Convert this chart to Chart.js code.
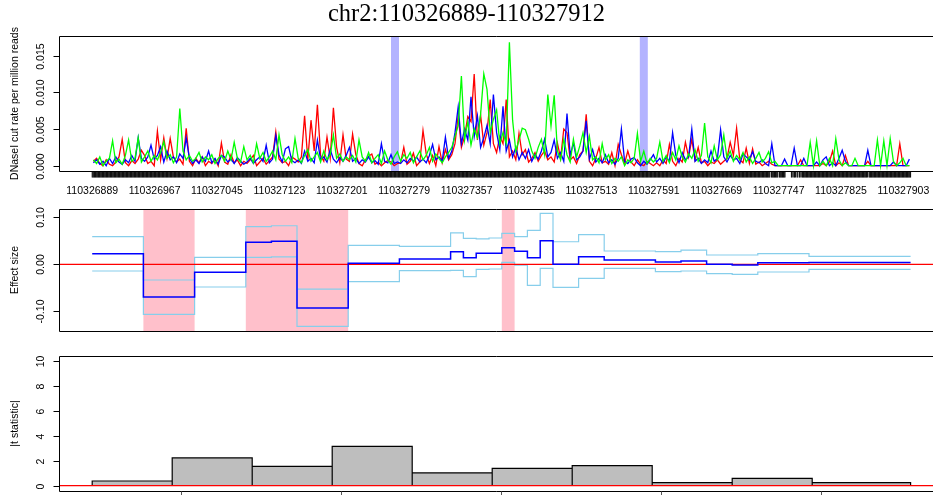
<!DOCTYPE html>
<html>
<head>
<meta charset="utf-8">
<title>chr2:110326889-110327912</title>
<script src="https://cdn.jsdelivr.net/npm/chart.js@4.4.0/dist/chart.umd.min.js"></script>
<style>
  html, body { margin: 0; padding: 0; background: #fff; overflow: hidden; }
  #wrap { position: relative; width: 933px; height: 495px; }
  #wrap canvas { position: absolute; left: 0; top: 0; }
</style>
</head>
<body>
<div id="wrap">
  <canvas id="cutChart" width="933" height="495"></canvas>
  <canvas id="effectChart" width="933" height="495"></canvas>
  <canvas id="tstatChart" width="933" height="495"></canvas>
</div>
<script>
const regionStart = 110326889;
const regionEnd = 110327912;
const regionTitle = 'chr2:110326889-110327912';

// DNaseI cut rate, one value per 4 bp, in units of 1e-4 reads per million
const cutBinSize = 4;
const cutRed = [
  6, 10, 3, 0, 8, 2, 0, 5, 12, 36, 4, 0, 7, 3, 9, 21,
  14, 3, 6, 0, 47, 8, 38, 10, 37, 12, 5, 9, 2, 51, 6, 0,
  10, 4, 12, 0, 6, 3, 9, 0, 31, 5, 2, 15, 4, 8, 0, 6,
  3, 8, 14, 0, 5, 10, 2, 7, 12, 46, 9, 4, 6, 0, 12, 9,
  5, 12, 68, 8, 62, 20, 83, 14, 6, 39, 10, 79, 25, 4, 42, 9,
  6, 43, 15, 3, 0, 8, 13, 16, 2, 5, 0, 4, 7, 5, 0, 3,
  4, 25, 2, 6, 17, 0, 5, 48, 16, 3, 14, 0, 26, 4, 22, 8,
  15, 30, 68, 25, 40, 67, 60, 125, 35, 69, 28, 45, 90, 30, 18, 40,
  30, 90, 12, 20, 8, 44, 15, 22, 5, 10, 18, 6, 14, 20, 8, 12,
  5, 31, 10, 50, 45, 8, 12, 3, 15, 20, 70, 6, 0, 10, 25, 4,
  6, 2, 18, 0, 29, 15, 3, 20, 5, 0, 8, 2, 0, 6, 3, 0,
  4, 0, 8, 3, 29, 6, 0, 10, 5, 32, 12, 36, 8, 25, 4, 6,
  0, 5, 3, 8, 2, 6, 10, 32, 14, 51, 8, 4, 24, 3, 23, 2,
  5, 0, 3, 6, 2, 0, 0, 0, 0, 0, 0, 0, 0, 8, 0, 0,
  0, 0, 0, 0, 3, 0, 5, 20, 0, 4, 0, 14, 0, 0, 0, 0,
  0, 0, 6, 0, 0, 0, 0, 0, 0, 0, 0, 0, 30, 0, 0, 0
];
const cutBlue = [
  4, 8, 2, 6, 0, 10, 3, 12, 5, 2, 8, 4, 14, 6, 38, 10,
  6, 12, 28, 9, 14, 26, 5, 20, 8, 12, 4, 16, 10, 38, 10, 3,
  8, 3, 12, 6, 20, 4, 10, 2, 14, 12, 5, 9, 3, 11, 6, 2,
  5, 10, 3, 8, 12, 6, 28, 4, 9, 41, 15, 5, 23, 26, 7, 4,
  8, 3, 20, 6, 10, 4, 35, 8, 12, 5, 22, 9, 4, 11, 6, 14,
  25, 6, 10, 3, 8, 5, 12, 4, 7, 2, 30, 6, 4, 15, 3, 5,
  3, 8, 4, 10, 6, 12, 5, 9, 4, 14, 29, 8, 12, 6, 39, 10,
  20, 45, 80, 30, 50, 35, 94, 40, 68, 25, 38, 55, 30, 97, 45, 22,
  81, 20, 35, 12, 25, 8, 18, 10, 22, 6, 15, 9, 20, 36, 12, 18,
  35, 10, 18, 6, 71, 14, 31, 8, 12, 20, 61, 9, 22, 5, 10, 4,
  15, 4, 8, 2, 10, 50, 6, 3, 9, 11, 4, 0, 6, 2, 8, 15,
  5, 10, 3, 12, 6, 45, 14, 4, 18, 8, 12, 50, 6, 10, 3, 8,
  4, 20, 6, 10, 49, 12, 5, 14, 8, 10, 3, 16, 12, 8, 19, 6,
  4, 8, 3, 0, 30, 0, 0, 0, 9, 0, 0, 24, 0, 0, 10, 0,
  0, 0, 5, 0, 8, 12, 0, 4, 0, 10, 21, 6, 0, 0, 0, 0,
  0, 0, 21, 0, 0, 0, 0, 0, 0, 0, 5, 0, 0, 0, 0, 9
];
const cutGreen = [
  8, 3, 12, 0, 6, 10, 34, 4, 9, 2, 14, 35, 6, 10, 38, 5,
  12, 20, 6, 14, 8, 18, 33, 10, 15, 4, 12, 78, 20, 8, 14, 6,
  10, 18, 5, 12, 8, 15, 3, 10, 14, 6, 20, 8, 32, 10, 5, 26,
  8, 14, 4, 30, 10, 18, 6, 12, 20, 8, 42, 15, 6, 12, 4, 37,
  10, 4, 14, 22, 6, 12, 18, 5, 20, 8, 15, 42, 10, 16, 6, 12,
  8, 14, 5, 35, 12, 6, 18, 4, 10, 15, 3, 20, 8, 2, 12, 19,
  6, 15, 10, 18, 4, 12, 20, 8, 14, 25, 6, 16, 10, 4, 12, 18,
  25, 40, 55, 122, 35, 60, 28, 50, 38, 70, 125, 104, 45, 63, 76, 30,
  45, 30, 168, 62, 20, 35, 51, 49, 36, 20, 10, 25, 36, 15, 97, 54,
  96, 20, 8, 36, 15, 5, 36, 12, 27, 45, 18, 40, 8, 12, 4, 30,
  8, 15, 3, 10, 6, 12, 0, 8, 4, 10, 44, 6, 20, 3, 10, 5,
  10, 32, 6, 14, 4, 18, 8, 27, 12, 5, 16, 10, 22, 6, 14, 58,
  12, 4, 27, 8, 15, 42, 10, 20, 6, 14, 8, 18, 5, 12, 3, 10,
  18, 5, 10, 19, 4, 6, 0, 0, 0, 0, 0, 0, 0, 0, 0, 0,
  32, 0, 34, 0, 6, 0, 10, 0, 37, 8, 0, 4, 0, 0, 10, 0,
  0, 0, 0, 0, 0, 35, 0, 34, 0, 37, 6, 0, 4, 10, 0, 0
];

// motif hits (first, last bp) and bp offsets without a rug tick
const motifSites = [[110327263, 110327272], [110327574, 110327583]];
const rugGaps = [848, 858, 867, 868, 869, 870, 871, 872, 873, 876, 880, 883, 886, 970];

const cutXTicks = [
  110326889, 110326967, 110327045, 110327123, 110327201, 110327279, 110327357,
  110327435, 110327513, 110327591, 110327669, 110327747, 110327825, 110327903
];
const cutYTicks = [0, 0.005, 0.010, 0.015];
const cutYLabels = ['0.000', '0.005', '0.010', '0.015'];

// effect size per 16 bp, with its upper and lower band
const effectBinSize = 16;
const effectEst = [
  0.0226, 0.0226, 0.0226, 0.0226, -0.0696, -0.0696, -0.0696, -0.0696,
  -0.0170, -0.0170, -0.0170, -0.0170, 0.0468, 0.0468, 0.0490, 0.0490,
  -0.0930, -0.0930, -0.0930, -0.0930, 0.0020, 0.0020, 0.0020, 0.0020,
  0.0113, 0.0113, 0.0113, 0.0113, 0.0268, 0.0140, 0.0234, 0.0234,
  0.0350, 0.0277, 0.0140, 0.0500, 0.0000, 0.0000, 0.0160, 0.0160,
  0.0090, 0.0090, 0.0090, 0.0090, 0.0050, 0.0050, 0.0070, 0.0070,
  0.0003, 0.0003, -0.0015, -0.0015, 0.0035, 0.0035, 0.0035, 0.0035,
  0.0040, 0.0040, 0.0040, 0.0040, 0.0040, 0.0040, 0.0040, 0.0040
];
const effectUpper = [
  0.0587, 0.0587, 0.0587, 0.0587, -0.0334, -0.0334, -0.0334, -0.0334,
  0.0149, 0.0149, 0.0149, 0.0149, 0.0800, 0.0800, 0.0820, 0.0820,
  -0.0530, -0.0530, -0.0530, -0.0530, 0.0404, 0.0404, 0.0404, 0.0404,
  0.0383, 0.0383, 0.0383, 0.0383, 0.0670, 0.0553, 0.0540, 0.0560,
  0.0660, 0.0590, 0.0720, 0.1085, 0.0480, 0.0480, 0.0630, 0.0630,
  0.0283, 0.0283, 0.0283, 0.0283, 0.0270, 0.0270, 0.0300, 0.0300,
  0.0198, 0.0198, 0.0198, 0.0198, 0.0226, 0.0226, 0.0226, 0.0226,
  0.0170, 0.0170, 0.0170, 0.0170, 0.0170, 0.0170, 0.0170, 0.0170
];
const effectLower = [
  -0.0143, -0.0143, -0.0143, -0.0143, -0.1064, -0.1064, -0.1064, -0.1064,
  -0.0483, -0.0483, -0.0483, -0.0483, 0.0149, 0.0149, 0.0160, 0.0160,
  -0.1320, -0.1320, -0.1320, -0.1320, -0.0370, -0.0370, -0.0370, -0.0370,
  -0.0136, -0.0136, -0.0136, -0.0136, -0.0128, -0.0263, -0.0107, -0.0100,
  0.0040, -0.0020, -0.0450, -0.0086, -0.0490, -0.0490, -0.0300, -0.0300,
  -0.0086, -0.0086, -0.0086, -0.0086, -0.0157, -0.0157, -0.0143, -0.0143,
  -0.0200, -0.0200, -0.0213, -0.0213, -0.0164, -0.0164, -0.0164, -0.0164,
  -0.0107, -0.0107, -0.0107, -0.0107, -0.0107, -0.0107, -0.0107, -0.0107
];
const effectYTicks = [-0.1, 0, 0.1];
const effectYLabels = ['-0.10', '0.00', '0.10'];

// |t statistic| per 100 bp window
const tWindowSize = 100;
const tStat = [0.38, 2.23, 1.56, 3.17, 1.03, 1.40, 1.61, 0.24, 0.59, 0.24];
const tYTicks = [0, 2, 4, 6, 8, 10];
const tYLabels = ['0', '2', '4', '6', '8', '10'];
const tXTicks = [110327000, 110327200, 110327400, 110327600, 110327800];

// shared genomic x range of the three panels
const X_MIN = 110326847.5;
const X_MAX = 110327940;

const SANS = '"Liberation Sans", Arial, sans-serif';

const cutX = k => regionStart + cutBinSize * k + 1.5;
const cutSeries = arr => arr.map((v, k) => ({ x: cutX(k), y: v * 1e-4 }));

function stepSeries(values) {
  const pts = values.map((v, i) => ({ x: regionStart + i * effectBinSize, y: v }));
  pts.push({ x: regionEnd, y: values[values.length - 1] });
  return pts;
}

// windows whose band does not cross zero, merged into runs
function significantRuns() {
  const runs = [];
  effectEst.forEach((_, i) => {
    if (effectLower[i] > 0 || effectUpper[i] < 0) {
      const s = regionStart + i * effectBinSize;
      const e = Math.min(s + effectBinSize, regionEnd);
      const last = runs[runs.length - 1];
      if (last && last[1] === s) last[1] = e;
      else runs.push([s, e]);
    }
  });
  return runs;
}

function barTrace() {
  const pts = [];
  tStat.forEach((h, i) => {
    const x0 = regionStart + i * tWindowSize;
    const x1 = i < tStat.length - 1 ? x0 + tWindowSize : regionEnd;
    pts.push({ x: x0, y: 0 }, { x: x0, y: h }, { x: x1, y: h }, { x: x1, y: 0 });
  });
  return pts;
}

// box, left axis, titles and extras drawn around each panel
function makeFrame(cfg) {
  return {
    id: 'panelFrame',
    beforeDatasetsDraw(chart) {
      const { ctx, chartArea: a, scales: { x } } = chart;
      ctx.save();
      ctx.fillStyle = cfg.bandColor;
      (cfg.bands || []).forEach(([s, e]) => {
        const l = x.getPixelForValue(s), r = x.getPixelForValue(e);
        ctx.fillRect(l, a.top, r - l, a.bottom - a.top);
      });
      ctx.restore();
    },
    afterDraw(chart) {
      const { ctx, chartArea: a, scales: { x, y } } = chart;
      ctx.save();
      ctx.strokeStyle = '#000';
      ctx.lineWidth = 1;
      const top = Math.round(a.top) + 0.5, bot = Math.round(a.bottom) + 0.5, left = Math.round(a.left) + 0.5;
      ctx.beginPath();
      ctx.moveTo(a.right + 2, top); ctx.lineTo(left, top); ctx.lineTo(left, bot); ctx.lineTo(a.right + 2, bot);
      ctx.stroke();

      // y ticks and rotated labels
      ctx.fillStyle = '#000';
      ctx.font = '10.5px ' + SANS;
      ctx.textAlign = 'center';
      ctx.textBaseline = 'middle';
      cfg.yTicks.forEach((t, i) => {
        const py = Math.round(y.getPixelForValue(t)) + 0.5;
        ctx.beginPath(); ctx.moveTo(left - 6, py); ctx.lineTo(left, py); ctx.stroke();
        ctx.save();
        ctx.translate(41.5, py);
        ctx.rotate(-Math.PI / 2);
        ctx.fillText(cfg.yLabels[i], 0, 0);
        ctx.restore();
      });
      ctx.save();
      ctx.translate(15, (a.top + a.bottom) / 2);
      ctx.rotate(-Math.PI / 2);
      ctx.fillText(cfg.yTitle, 0, 0);
      ctx.restore();

      if (cfg.rug) {
        ctx.beginPath();
        for (let off = 0; off <= regionEnd - regionStart; off++) {
          if (rugGaps.includes(off)) continue;
          const px = x.getPixelForValue(regionStart + off);
          ctx.moveTo(px, a.bottom);
          ctx.lineTo(px, a.bottom + 6.5);
        }
        ctx.stroke();
      }
      if (cfg.xLabels) {
        cfg.xLabels.forEach(v => ctx.fillText(String(v), x.getPixelForValue(v), 191));
      }
      if (cfg.xTicks) {
        ctx.strokeStyle = '#555';
        cfg.xTicks.forEach(v => {
          const px = Math.round(x.getPixelForValue(v)) + 0.5;
          ctx.beginPath(); ctx.moveTo(px, bot); ctx.lineTo(px, bot + 5); ctx.stroke();
        });
      }
      if (cfg.title) {
        ctx.font = '24.5px "Liberation Serif", "DejaVu Serif", serif';
        ctx.fillText(cfg.title, 466.5, 15);
      }
      ctx.restore();
    }
  };
}

function panelOptions(yMin, yMax, padding) {
  return {
    responsive: false,
    animation: false,
    devicePixelRatio: 1,
    layout: { padding },
    scales: {
      x: { type: 'linear', min: X_MIN, max: X_MAX, display: false },
      y: { type: 'linear', min: yMin, max: yMax, display: false }
    },
    plugins: { legend: { display: false }, tooltip: { enabled: false } },
    elements: { point: { radius: 0 }, line: { tension: 0 } }
  };
}

new Chart(document.getElementById('cutChart'), {
  type: 'line',
  data: {
    datasets: [
      { data: cutSeries(cutGreen), borderColor: '#00FF00', borderWidth: 1.3, order: 1 },
      { data: cutSeries(cutBlue), borderColor: '#0000FF', borderWidth: 1.3, order: 2 },
      { data: cutSeries(cutRed), borderColor: '#FF0000', borderWidth: 1.3, order: 3 }
    ]
  },
  options: panelOptions(-0.000722, 0.01767, { left: 59, right: 0, top: 36, bottom: 324 }),
  plugins: [makeFrame({
    bands: motifSites.map(([s, e]) => [s - 0.5, e + 0.5]),
    bandColor: '#B3B3FF',
    yTicks: cutYTicks, yLabels: cutYLabels,
    yTitle: 'DNaseI cut rate per million reads',
    rug: true, xLabels: cutXTicks, title: regionTitle
  })]
});

new Chart(document.getElementById('effectChart'), {
  type: 'line',
  data: {
    datasets: [
      { data: stepSeries(effectEst), borderColor: '#0000FF', borderWidth: 1.5, stepped: 'before', order: 0 },
      { data: [{ x: X_MIN, y: 0 }, { x: X_MAX, y: 0 }], borderColor: '#FF0000', borderWidth: 1.2, order: 1 },
      { data: stepSeries(effectUpper), borderColor: '#87CEEB', borderWidth: 1.2, stepped: 'before', order: 2 },
      { data: stepSeries(effectLower), borderColor: '#87CEEB', borderWidth: 1.2, stepped: 'before', order: 3 }
    ]
  },
  options: panelOptions(-0.1419, 0.11766, { left: 59, right: 0, top: 209, bottom: 164 }),
  plugins: [makeFrame({
    bands: significantRuns(),
    bandColor: '#FFC0CB',
    yTicks: effectYTicks, yLabels: effectYLabels,
    yTitle: 'Effect size'
  })]
});

new Chart(document.getElementById('tstatChart'), {
  type: 'line',
  data: {
    datasets: [
      { data: [{ x: X_MIN, y: 0 }, { x: X_MAX, y: 0 }], borderColor: '#FF0000', borderWidth: 1.2, order: 0 },
      { data: barTrace(), borderColor: '#000', borderWidth: 1.2, fill: 'origin', backgroundColor: '#BEBEBE', order: 1 }
    ]
  },
  options: panelOptions(-0.426, 10.43, { left: 59, right: 0, top: 356, bottom: 4 }),
  plugins: [makeFrame({
    yTicks: tYTicks, yLabels: tYLabels,
    yTitle: '|t statistic|',
    xTicks: tXTicks
  })]
});
</script>
</body>
</html>
